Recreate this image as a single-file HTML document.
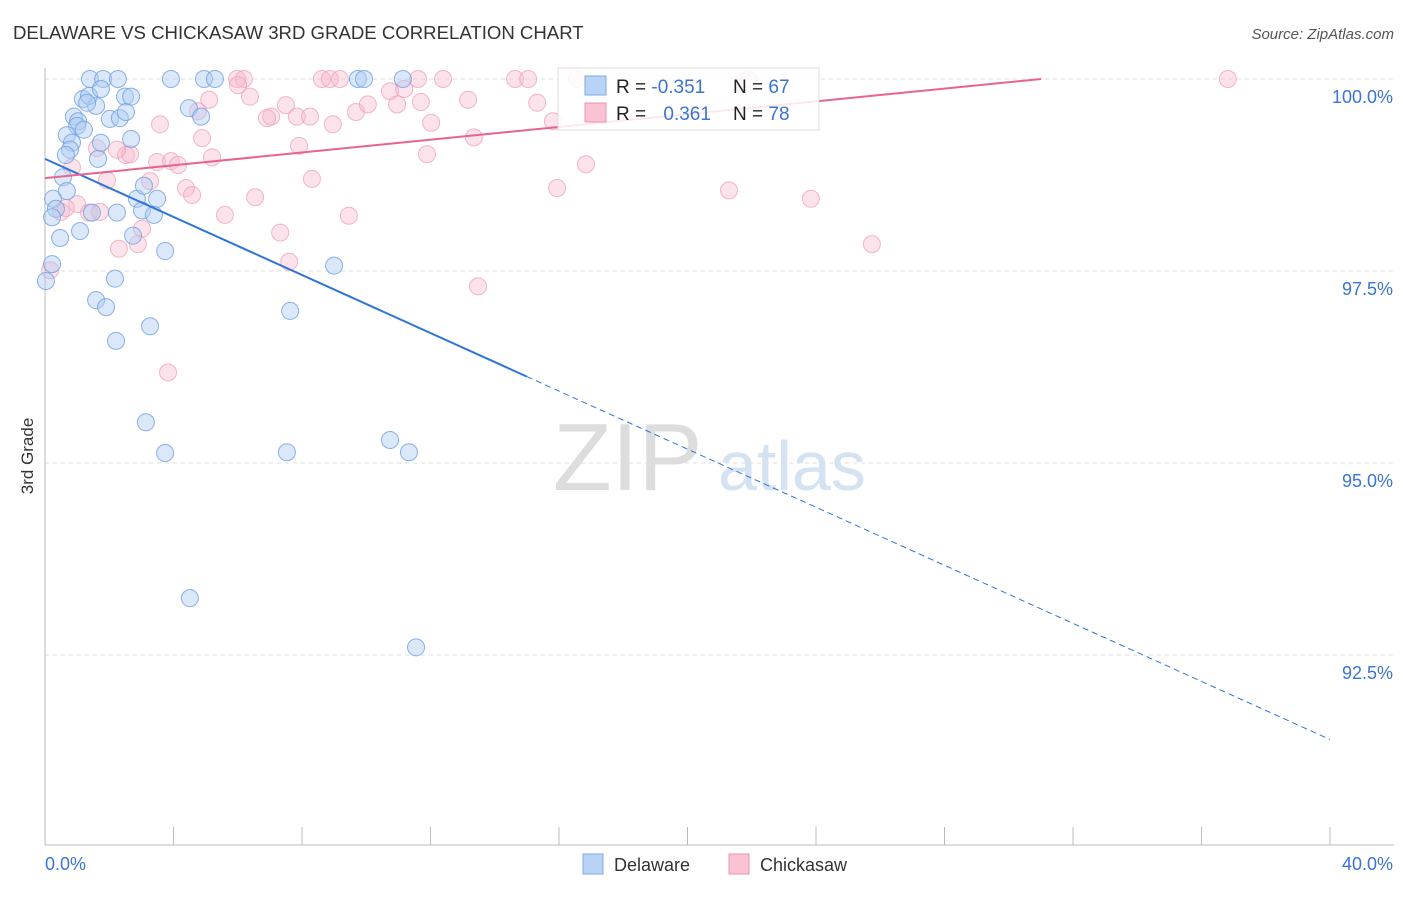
<!DOCTYPE html>
<html><head><meta charset="utf-8"><style>
body{margin:0;background:#fff;font-family:"Liberation Sans",sans-serif;}
svg text{font-family:"Liberation Sans",sans-serif;}
</style></head><body>
<svg id="chart" width="1406" height="892">
<text x="13" y="39" font-size="18.6" fill="#333">DELAWARE VS CHICKASAW 3RD GRADE CORRELATION CHART</text>
<text x="1394" y="39" font-size="15" fill="#555" text-anchor="end" font-style="italic">Source: ZipAtlas.com</text>
<text x="33" y="456" font-size="17" fill="#333" text-anchor="middle" transform="rotate(-90 33 456)">3rd Grade</text>
<g><text x="553" y="490" font-size="96" fill="#ddd" font-family="Liberation Serif">ZIP</text><text x="718" y="490" font-size="70" fill="#d4e2f2">atlas</text></g>
<g id="grid"></g><g id="axes"></g><g id="pts"></g><g id="lines"></g>
<g>
<rect x="558" y="68" width="261" height="62" fill="#fff" fill-opacity="0.85" stroke="#ddd"/>
<rect x="585" y="76" width="21" height="19" fill="#b8d3f5" stroke="#7ea8e0"/>
<rect x="585" y="103" width="21" height="19" fill="#f9c3d3" stroke="#ec93ae"/>
<text x="616" y="93" font-size="19" fill="#222">R = <tspan fill="#3a74d4">-0.351</tspan></text>
<text x="733" y="93" font-size="19" fill="#222">N = <tspan fill="#3a74d4">67</tspan></text>
<text x="616" y="120" font-size="19" fill="#222">R = <tspan fill="#3a74d4" dx="12">0.361</tspan></text>
<text x="733" y="120" font-size="19" fill="#222">N = <tspan fill="#3a74d4">78</tspan></text>
</g>
<g>
<rect x="583" y="854" width="20" height="20" fill="#b8d3f5" stroke="#7ea8e0"/>
<text x="614" y="871" font-size="18" fill="#333">Delaware</text>
<rect x="729" y="854" width="20" height="20" fill="#f9c3d3" stroke="#ec93ae"/>
<text x="760" y="871" font-size="18" fill="#333">Chickasaw</text>
</g>
</svg>
<script>
const blueX=[1.40,1.81,2.27,3.92,4.95,5.29,9.74,9.93,11.14,1.18,1.59,1.37,1.74,2.49,2.68,1.31,0.90,1.03,1.00,1.21,2.02,2.33,2.52,0.68,0.84,0.78,0.65,1.65,1.74,2.68,0.56,0.68,0.25,0.34,0.22,0.47,1.09,1.46,2.24,2.86,3.08,3.49,3.02,3.39,2.74,3.74,4.48,4.86,2.18,1.59,1.90,3.27,2.21,7.63,9.00,0.03,0.22,3.14,3.74,7.53,10.74,11.33,4.51,11.55];
const blueY=[100,100,100,100,100,100,100,100,100,99.74,99.65,99.78,99.87,99.77,99.77,99.69,99.51,99.45,99.39,99.34,99.48,99.49,99.57,99.27,99.17,99.08,99.01,98.96,99.17,99.22,98.72,98.54,98.44,98.31,98.20,97.93,98.02,98.26,98.26,98.44,98.61,98.44,98.29,98.23,97.96,97.76,99.62,99.51,97.40,97.12,97.03,96.78,96.59,96.98,97.57,97.37,97.59,95.53,95.13,95.14,95.30,95.14,93.24,92.60];
const pinkX=[5.98,6.19,8.62,8.87,9.18,11.61,12.39,14.63,15.04,16.56,21.88,36.82,6.01,6.38,5.11,7.50,7.04,6.91,7.84,8.25,8.96,9.68,10.05,10.74,11.18,10.96,11.70,12.02,13.17,15.32,15.81,3.58,4.76,4.89,5.20,7.91,11.89,13.35,16.84,1.62,2.52,2.65,3.49,3.92,4.14,2.24,1.93,3.27,4.39,4.58,6.54,8.31,15.94,21.29,23.84,1.00,1.37,1.71,0.50,0.65,5.60,9.46,7.32,3.02,2.30,2.89,7.60,25.74,13.48,3.83,0.16,0.84];
const pinkY=[100,100,100,100,100,100,100,100,100,100,100,100,99.92,99.77,99.73,99.66,99.51,99.49,99.51,99.51,99.41,99.57,99.67,99.84,99.87,99.67,99.70,99.43,99.73,99.69,99.45,99.41,99.58,99.23,98.98,99.13,99.02,99.24,98.89,99.10,99.01,99.02,98.92,98.93,98.88,99.08,98.68,98.67,98.58,98.49,98.46,98.70,98.58,98.55,98.44,98.37,98.26,98.27,98.27,98.32,98.23,98.22,98.00,98.05,97.79,97.85,97.62,97.85,97.30,96.18,97.51,98.85];
const blueTrend=[98.96,-0.189];
const pinkTrend=[98.71,0.0416];
const yTicks=[100,97.5,95,92.5];
const yTickLabels=["100.0%","97.5%","95.0%","92.5%"];
const NS="http://www.w3.org/2000/svg";
const sx=v=>45+v*32.125, sy=v=>79+(100-v)*76.8;
function mk(t,a,p){const e=document.createElementNS(NS,t);for(const k in a)e.setAttribute(k,a[k]);p.appendChild(e);return e;}
const grid=document.getElementById('grid'),axes=document.getElementById('axes');
yTicks.forEach((t,i)=>{
 const l=mk('line',{x1:45,x2:1394,y1:sy(t),y2:sy(t),stroke:'#ddd','stroke-dasharray':'4 4'},grid);
 
 
 const tx=mk('text',{x:1393,y:sy(t)+24,'font-size':18,fill:'#3a74d4','text-anchor':'end'},axes);
 tx.textContent=yTickLabels[i];
 
 
});
const ax=mk('line',{x1:45,x2:1394,y1:845,y2:845,stroke:'#bbb'},axes);


const ay=mk('line',{x1:45,x2:45,y1:68,y2:845,stroke:'#bbb'},axes);


for(let i=0;i<=10;i++){const t=mk('line',{x1:sx(i*4),x2:sx(i*4),y1:827,y2:845,stroke:'#bbb'},axes);
 
 }
[["0.0%",45,"start"],["40.0%",1393,"end"]].forEach(d=>{const t=mk('text',{x:d[1],y:870,'font-size':18,fill:'#3a74d4','text-anchor':d[2]},axes);t.textContent=d[0];
 
 });
const pts=document.getElementById('pts');
pinkX.forEach((x,i)=>{const c=mk('circle',{cx:sx(x),cy:sy(pinkY[i]),r:8.5,fill:'#f7b9cc','fill-opacity':0.4,stroke:'#ec9ab3','stroke-opacity':0.7},pts);
 
 });
blueX.forEach((x,i)=>{const c=mk('circle',{cx:sx(x),cy:sy(blueY[i]),r:8.5,fill:'#aecbf2','fill-opacity':0.45,stroke:'#6f9fe0','stroke-opacity':0.8},pts);
 
 });
const lines=document.getElementById('lines');
const bf=x=>blueTrend[0]+blueTrend[1]*x;
const b1=mk('line',{x1:sx(0),y1:sy(bf(0)),x2:sx(15),y2:sy(bf(15)),stroke:'#2f74d6','stroke-width':2},lines);


const b2=mk('line',{x1:sx(15),y1:sy(bf(15)),x2:sx(40),y2:sy(bf(40)),stroke:'#2f74d6','stroke-width':1,'stroke-dasharray':'6 4'},lines);


const xEnd=(100-pinkTrend[0])/pinkTrend[1];
const p1=mk('line',{x1:sx(0),y1:sy(pinkTrend[0]),x2:sx(xEnd),y2:sy(100),stroke:'#e8648e','stroke-width':2},lines);


</script>
</body></html>
